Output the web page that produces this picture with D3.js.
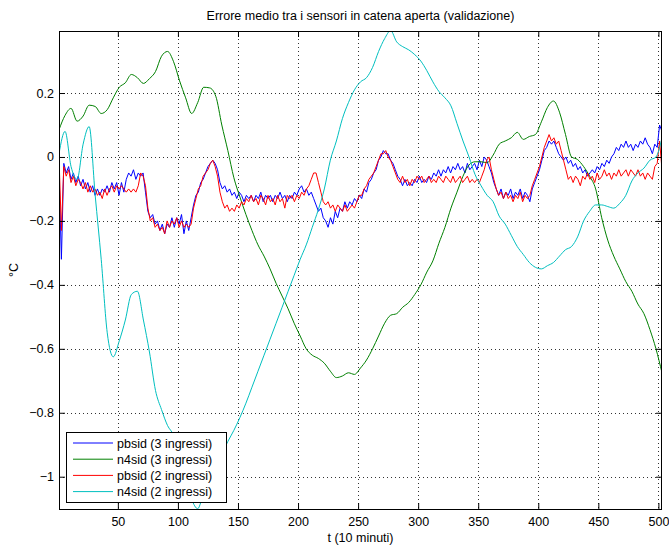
<!DOCTYPE html>
<meta charset="utf-8">
<style>
    body { margin: 0; background: #fff; }
    text { font-family: "Liberation Sans", Arial, sans-serif; fill: #000; }
    .grid line { stroke: #333; stroke-width: 1; stroke-dasharray: 1,3; }
    .axis path { display: none; }
    .axis line { stroke: #000; }
    .axis text { font-size: 12.5px; }
    .series { fill: none; stroke-width: 1; stroke-linejoin: round; }
</style>
<svg width="669" height="547"></svg>
<script src="https://cdn.jsdelivr.net/npm/d3@7"></script>
<script>

    var seriesNames = ["pbsid (3 ingressi)", "n4sid (3 ingressi)", "pbsid (2 ingressi)", "n4sid (2 ingressi)"];
    var seriesColors = ["#0000ff", "#008000", "#ff0000", "#00bfbf"];
    var xTicks = [50, 100, 150, 200, 250, 300, 350, 400, 450, 500];
    var yTicks = [-1, -0.8, -0.6, -0.4, -0.2, 0, 0.2];

    // pbsid, one value every 2 samples (t = 1, 3, 5, ... 503)
    var pbsid3 = [
        -0.04, -0.32, -0.02, -0.05, -0.03, -0.07, -0.05, -0.08, -0.06, -0.09,
        -0.07, -0.10, -0.08, -0.11, -0.09, -0.12, -0.10, -0.12, -0.10, -0.11,
        -0.09, -0.11, -0.08, -0.10, -0.08, -0.12, -0.08, -0.11, -0.07, -0.05,
        -0.06, -0.04, -0.07, -0.05, -0.06, -0.05, -0.11, -0.17, -0.19, -0.18,
        -0.21, -0.20, -0.23, -0.21, -0.24, -0.21, -0.22, -0.19, -0.22, -0.19,
        -0.21, -0.18, -0.24, -0.20, -0.23, -0.19, -0.15, -0.12, -0.11, -0.08,
        -0.07, -0.05, -0.03, -0.02, -0.01, -0.02, -0.04, -0.08, -0.10, -0.09,
        -0.11, -0.10, -0.12, -0.11, -0.13, -0.11, -0.12, -0.14, -0.12, -0.13,
        -0.12, -0.14, -0.12, -0.13, -0.11, -0.14, -0.12, -0.13, -0.12, -0.14,
        -0.12, -0.13, -0.11, -0.13, -0.12, -0.14, -0.12, -0.13, -0.11, -0.12,
        -0.10, -0.09, -0.11, -0.10, -0.12, -0.11, -0.13, -0.15, -0.17, -0.16,
        -0.19, -0.20, -0.22, -0.19, -0.21, -0.17, -0.19, -0.16, -0.17, -0.14,
        -0.16, -0.14, -0.15, -0.13, -0.14, -0.12, -0.13, -0.10, -0.11, -0.08,
        -0.07, -0.05, -0.04, -0.01, 0.00, 0.02, 0.01, 0.01, -0.01, -0.02,
        -0.04, -0.06, -0.07, -0.09, -0.07, -0.09, -0.08, -0.09, -0.07, -0.08,
        -0.06, -0.08, -0.07, -0.08, -0.06, -0.07, -0.05, -0.06, -0.04, -0.06,
        -0.04, -0.05, -0.03, -0.05, -0.03, -0.04, -0.02, -0.04, -0.03, -0.05,
        -0.02, -0.04, -0.03, -0.02, -0.04, -0.01, -0.03, 0.00, -0.01, -0.03,
        -0.05, -0.08, -0.10, -0.12, -0.10, -0.13, -0.11, -0.12, -0.10, -0.13,
        -0.11, -0.12, -0.10, -0.13, -0.11, -0.12, -0.14, -0.10, -0.08, -0.06,
        -0.04, -0.01, 0.02, 0.03, 0.05, 0.04, 0.05, 0.03, 0.01, 0.00,
        -0.01, 0.00, -0.02, -0.01, -0.03, -0.02, -0.04, -0.03, -0.05, -0.04,
        -0.06, -0.05, -0.04, -0.05, -0.03, -0.04, -0.02, -0.03, -0.01, -0.02,
        0.00, 0.01, 0.03, 0.02, 0.04, 0.03, 0.05, 0.03, 0.04, 0.02,
        0.04, 0.03, 0.05, 0.04, 0.06, 0.04, 0.03, 0.01, 0.04, 0.03,
        0.10, 0.08
    ];

    var pbsid2 = [
        0.00, -0.23, -0.03, -0.06, -0.04, -0.08, -0.06, -0.09, -0.07, -0.08,
        -0.10, -0.08, -0.11, -0.09, -0.11, -0.10, -0.12, -0.11, -0.13, -0.10,
        -0.12, -0.10, -0.09, -0.11, -0.09, -0.10, -0.09, -0.10, -0.11, -0.10,
        -0.11, -0.10, -0.11, -0.09, -0.05, -0.06, -0.09, -0.16, -0.20, -0.19,
        -0.22, -0.21, -0.23, -0.22, -0.24, -0.20, -0.22, -0.20, -0.21, -0.19,
        -0.22, -0.20, -0.22, -0.21, -0.22, -0.21, -0.16, -0.13, -0.10, -0.09,
        -0.06, -0.05, -0.04, -0.02, -0.01, -0.03, -0.06, -0.11, -0.14, -0.16,
        -0.15, -0.17, -0.16, -0.17, -0.15, -0.16, -0.14, -0.15, -0.13, -0.14,
        -0.12, -0.14, -0.13, -0.15, -0.12, -0.13, -0.15, -0.12, -0.14, -0.13,
        -0.15, -0.12, -0.14, -0.13, -0.16, -0.12, -0.13, -0.12, -0.14, -0.12,
        -0.13, -0.11, -0.12, -0.10, -0.09, -0.07, -0.05, -0.05, -0.08, -0.11,
        -0.14, -0.15, -0.14, -0.16, -0.15, -0.17, -0.15, -0.16, -0.17, -0.15,
        -0.17, -0.16, -0.15, -0.16, -0.14, -0.12, -0.12, -0.10, -0.09, -0.07,
        -0.06, -0.05, -0.03, -0.01, 0.01, 0.01, 0.02, 0.00, -0.01, -0.03,
        -0.05, -0.07, -0.08, -0.06, -0.08, -0.07, -0.09, -0.07, -0.08, -0.06,
        -0.07, -0.06, -0.08, -0.07, -0.06, -0.08, -0.07, -0.08, -0.06, -0.07,
        -0.08, -0.06, -0.07, -0.08, -0.06, -0.08, -0.07, -0.06, -0.08, -0.07,
        -0.06, -0.08, -0.07, -0.08, -0.07, -0.08, -0.06, -0.04, -0.01, 0.00,
        -0.04, -0.07, -0.10, -0.12, -0.11, -0.13, -0.11, -0.13, -0.12, -0.14,
        -0.12, -0.13, -0.11, -0.14, -0.12, -0.13, -0.12, -0.09, -0.07, -0.05,
        -0.03, 0.00, 0.03, 0.05, 0.07, 0.05, 0.06, 0.04, 0.05, 0.02,
        -0.01, -0.04, -0.07, -0.06, -0.08, -0.06, -0.07, -0.09, -0.06, -0.07,
        -0.05, -0.07, -0.06, -0.08, -0.05, -0.07, -0.06, -0.04, -0.06, -0.05,
        -0.07, -0.05, -0.06, -0.04, -0.06, -0.05, -0.04, -0.06, -0.04, -0.05,
        -0.06, -0.04, -0.06, -0.05, -0.07, -0.05, -0.06, -0.07, -0.03, -0.02,
        0.05, -0.04
    ];

    // n4sid, smooth, 101 values spread over t = 1 ... 503
    var n4sid3 = [
        0.085, 0.13, 0.152, 0.112, 0.128, 0.162, 0.158, 0.136, 0.148, 0.185,
        0.218, 0.232, 0.258, 0.248, 0.23, 0.245, 0.267, 0.315, 0.33, 0.298,
        0.238, 0.185, 0.136, 0.17, 0.218, 0.216, 0.19, 0.1, 0.02, -0.065,
        -0.125, -0.18, -0.23, -0.275, -0.31, -0.35, -0.395, -0.435, -0.475, -0.52,
        -0.56, -0.6, -0.62, -0.63, -0.645, -0.67, -0.69, -0.685, -0.675, -0.68,
        -0.66, -0.635, -0.6, -0.56, -0.52, -0.495, -0.49, -0.47, -0.455, -0.43,
        -0.4, -0.36, -0.325, -0.27, -0.22, -0.16, -0.11, -0.06, -0.025, -0.015,
        -0.015, -0.018, 0.006, 0.04, 0.05, 0.06, 0.077, 0.055, 0.064, 0.07,
        0.11, 0.155, 0.175, 0.14, 0.07, 0.0, -0.008, -0.03, -0.06, -0.1,
        -0.19, -0.26, -0.31, -0.35, -0.39, -0.42, -0.46, -0.49, -0.54, -0.6,
        -0.675
    ];

    var n4sid2 = [
        0.01, 0.08, -0.03, -0.07, 0.04, 0.095, -0.12, -0.32, -0.55, -0.625,
        -0.575, -0.51, -0.43, -0.42, -0.51, -0.61, -0.73, -0.79, -0.84, -0.87,
        -0.93, -1.0, -1.07, -1.1, -1.05, -1.01, -0.98, -0.93, -0.89, -0.855,
        -0.815, -0.77, -0.72, -0.67, -0.62, -0.57, -0.52, -0.47, -0.42, -0.37,
        -0.32, -0.275, -0.22, -0.165, -0.1, -0.01, 0.05, 0.12, 0.17, 0.21,
        0.235, 0.248, 0.28, 0.33, 0.37, 0.395, 0.36, 0.345, 0.335, 0.32,
        0.3, 0.27, 0.235, 0.205, 0.185, 0.16, 0.105, 0.05, 0.0, -0.055,
        -0.09, -0.12, -0.14, -0.185, -0.21, -0.245, -0.28, -0.305, -0.33, -0.345,
        -0.35, -0.34, -0.33, -0.31, -0.29, -0.28, -0.25, -0.2, -0.17, -0.15,
        -0.15, -0.155, -0.16, -0.145, -0.12, -0.075, -0.05, -0.035, -0.01, 0.0,
        0.06
    ];

    var svg = d3.select("svg"),
        margin = { left: 59, right: 7, top: 31, bottom: 38 },
        width = +svg.attr("width") - margin.left - margin.right,
        height = +svg.attr("height") - margin.top - margin.bottom;

    var x = d3.scaleLinear().domain([1, 503]).range([0, width]);
    var y = d3.scaleLinear().domain([-1.101, 0.394]).range([height, 0]);

    var g = svg.append("g").attr("transform", "translate(" + margin.left + "," + margin.top + ")");

    svg.append("defs").append("clipPath").attr("id", "plot")
        .append("rect").attr("width", width).attr("height", height);

    // grid
    var grid = g.append("g").attr("class", "grid");
    grid.selectAll(".gx").data(xTicks).enter().append("line")
        .attr("x1", function (d) { return Math.round(x(d)) + 0.5; })
        .attr("x2", function (d) { return Math.round(x(d)) + 0.5; })
        .attr("y1", 0).attr("y2", height);
    grid.selectAll(".gy").data(yTicks).enter().append("line")
        .attr("y1", function (d) { return Math.round(y(d)) + 0.5; })
        .attr("y2", function (d) { return Math.round(y(d)) + 0.5; })
        .attr("x1", 0).attr("x2", width);

    function fmt(v) {
        var s = String(Math.abs(+v.toFixed(1)));
        return v < 0 ? "\u2212" + s : s;
    }

    // series
    var everyTwo = function (d, i) { return x(1 + 2 * i); };
    var spread = function (d, i) { return x(1 + i * 502 / 100); };

    var lines = g.append("g").attr("clip-path", "url(#plot)");
    var data = [
        { v: pbsid3, xf: everyTwo, c: seriesColors[0], curve: d3.curveLinear },
        { v: n4sid3, xf: spread, c: seriesColors[1], curve: d3.curveMonotoneX },
        { v: pbsid2, xf: everyTwo, c: seriesColors[2], curve: d3.curveLinear },
        { v: n4sid2, xf: spread, c: seriesColors[3], curve: d3.curveMonotoneX }
    ];
    data.forEach(function (s) {
        lines.append("path")
            .attr("class", "series")
            .attr("stroke", s.c)
            .attr("d", d3.line().x(s.xf).y(function (d) { return y(d); }).curve(s.curve)(s.v));
    });

    // axes, ticks inward on all four sides
    g.append("g").attr("class", "axis")
        .attr("transform", "translate(0," + height + ")")
        .call(d3.axisBottom(x).tickValues(xTicks).tickSize(-6).tickSizeOuter(0).tickPadding(8));
    g.append("g").attr("class", "axis")
        .call(d3.axisTop(x).tickValues(xTicks).tickSize(-6).tickSizeOuter(0).tickFormat(""));
    g.append("g").attr("class", "axis")
        .call(d3.axisLeft(y).tickValues(yTicks).tickSize(-6).tickSizeOuter(0).tickPadding(5).tickFormat(fmt));
    g.append("g").attr("class", "axis")
        .attr("transform", "translate(" + width + ",0)")
        .call(d3.axisRight(y).tickValues(yTicks).tickSize(-6).tickSizeOuter(0).tickFormat(""));

    g.append("rect")
        .attr("x", 0.5).attr("y", 0.5)
        .attr("width", width - 1).attr("height", height)
        .attr("fill", "none").attr("stroke", "#000");

    // legend
    var leg = g.append("g").attr("transform", "translate(7,401)");
    leg.append("rect")
        .attr("x", 0.5).attr("y", 0.5).attr("width", 160).attr("height", 70)
        .attr("fill", "#fff").attr("stroke", "#000");
    seriesNames.forEach(function (n, i) {
        var yy = 11 + i * 16.2;
        leg.append("line")
            .attr("x1", 7).attr("x2", 47).attr("y1", yy).attr("y2", yy)
            .attr("stroke", seriesColors[i]).attr("stroke-width", 1);
        leg.append("text")
            .attr("x", 51).attr("y", yy + 4.5)
            .style("font-size", "12.5px")
            .text(n);
    });

    // labels
    svg.append("text")
        .attr("x", margin.left + width / 2).attr("y", 20)
        .attr("text-anchor", "middle")
        .style("font-size", "12.5px")
        .text("Errore medio tra i sensori in catena aperta (validazione)");
    svg.append("text")
        .attr("x", margin.left + width / 2).attr("y", 542)
        .attr("text-anchor", "middle")
        .style("font-size", "12.5px")
        .text("t (10 minuti)");
    svg.append("text")
        .attr("transform", "translate(18,270) rotate(-90)")
        .attr("text-anchor", "middle")
        .style("font-size", "12.5px")
        .text("°C");

</script>
